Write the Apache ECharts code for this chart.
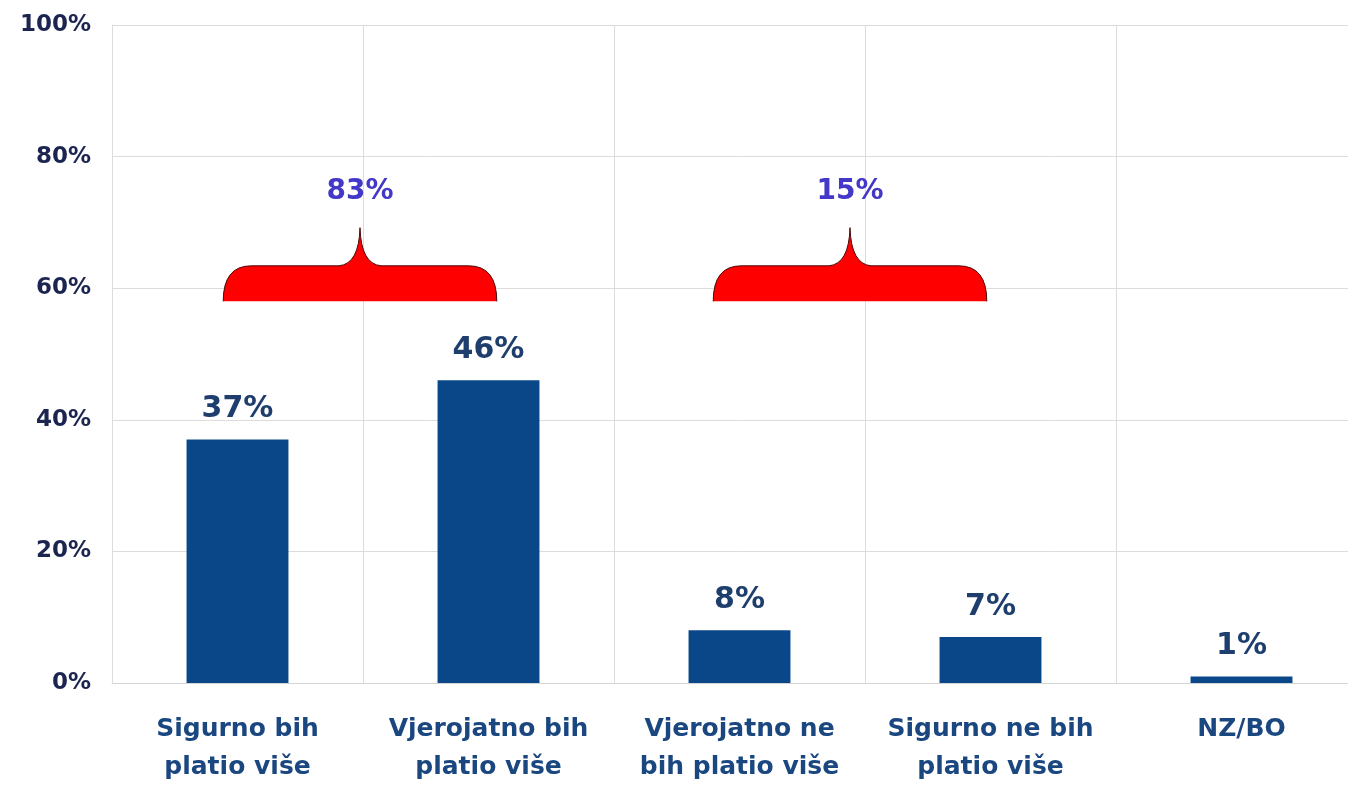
<!DOCTYPE html>
<html>
<head>
<meta charset="utf-8">
<script src="https://cdn.jsdelivr.net/npm/echarts@6/dist/echarts.min.js"></script>
<style>
  html, body { margin: 0; padding: 0; background: #fff; overflow: hidden; }
  /* zadnji stupac na slici izlazi preko desnog ruba */
  #chart { width: 1367px; height: 786px; }
</style>
</head>
<body>
<div id="chart"></div>
<script>
// kategorije i vrijednosti (%)
const categories = ['Sigurno bih\nplatio više', 'Vjerojatno bih\nplatio više', 'Vjerojatno ne\nbih platio više', 'Sigurno ne bih\nplatio više', 'NZ/BO']
const values = [37, 46, 8, 7, 1]
const yTicks = [0, 20, 40, 60, 80, 100]

// zbrojene grupe (vitičaste zagrade)
const groupFrom = [0, 2]
const groupTo = [1, 3]
const groupLabels = ['83%', '15%']

const FONT = '"DejaVu Sans", Arial, sans-serif'
const chart = echarts.init(document.getElementById('chart'))

// pomak središta zagrade u px (na slici druga nije centrirana)
const braceShift = [-3, -15]

function renderBrace(params, api) {
  const i = params.dataIndex
  const band = api.size([1, 0])[0]
  const a = api.coord([api.value(0), 58])
  const b = api.coord([api.value(1), 58])
  const cx = (a[0] + b[0]) / 2 + braceShift[i]
  const yb = a[1]
  const yt = api.coord([0, 63.4])[1]
  const yp = api.coord([0, 69.2])[1]
  const yl = api.coord([0, 74.6])[1]
  const w = band * 0.545
  const r = 28
  const k = 21
  const x0 = cx - w
  const x1 = cx + w
  const edge = `M${x0},${yb} Q${x0},${yt} ${x0 + r},${yt} L${cx - k},${yt} Q${cx - 1},${yt - 2} ${cx},${yp} Q${cx + 1},${yt - 2} ${cx + k},${yt} L${x1 - r},${yt} Q${x1},${yt} ${x1},${yb}`
  return {
    type: 'group',
    children: [
      { type: 'path', shape: { pathData: edge + ' Z' }, style: { fill: '#ff0000' } },
      { type: 'path', shape: { pathData: edge }, style: { fill: null, stroke: '#4a0a0a', lineWidth: 1 } },
      {
        type: 'text',
        x: cx,
        y: yl,
        style: {
          text: groupLabels[i],
          fill: '#4338c8',
          font: `bold 28px ${FONT}`,
          align: 'center',
          verticalAlign: 'middle',
        },
      },
    ],
  }
}

chart.setOption({
  backgroundColor: '#ffffff',
  animation: false,
  grid: {
    left: 112,
    right: 0,
    top: 25,
    bottom: 101,
  },
  xAxis: {
    type: 'category',
    data: categories,
    axisLine: { show: true, lineStyle: { color: '#d4d4d4', width: 1 } },
    axisTick: { show: false },
    splitLine: { show: true, lineStyle: { color: '#dcdcdc', width: 1 } },
    axisLabel: {
      interval: 0,
      margin: 27,
      color: '#1b4780',
      fontFamily: FONT,
      fontWeight: 'bold',
      fontSize: 25,
      lineHeight: 38,
    },
  },
  yAxis: {
    type: 'value',
    min: yTicks[0],
    max: yTicks[yTicks.length - 1],
    interval: 20,
    axisLine: { show: true, lineStyle: { color: '#dcdcdc' } },
    axisTick: { show: false },
    splitLine: { show: true, lineStyle: { color: '#dcdcdc', width: 1 } },
    axisLabel: {
      margin: 21,
      color: '#1c2550',
      fontFamily: FONT,
      fontWeight: 'bold',
      fontSize: 23,
      formatter: '{value}%',
    },
  },
  series: [
    {
      type: 'bar',
      data: values,
      barWidth: '40.6%',
      itemStyle: { color: '#0a4788' },
      label: {
        show: true,
        position: 'top',
        distance: 15,
        formatter: '{c}%',
        color: '#1e3f6e',
        fontFamily: FONT,
        fontWeight: 'bold',
        fontSize: 30,
      },
    },
    {
      type: 'custom',
      renderItem: renderBrace,
      data: groupFrom.map((f, i) => [f, groupTo[i]]),
      encode: { x: [0, 1] },
      silent: true,
      z: 5,
    },
  ],
})
</script>
</body>
</html>
